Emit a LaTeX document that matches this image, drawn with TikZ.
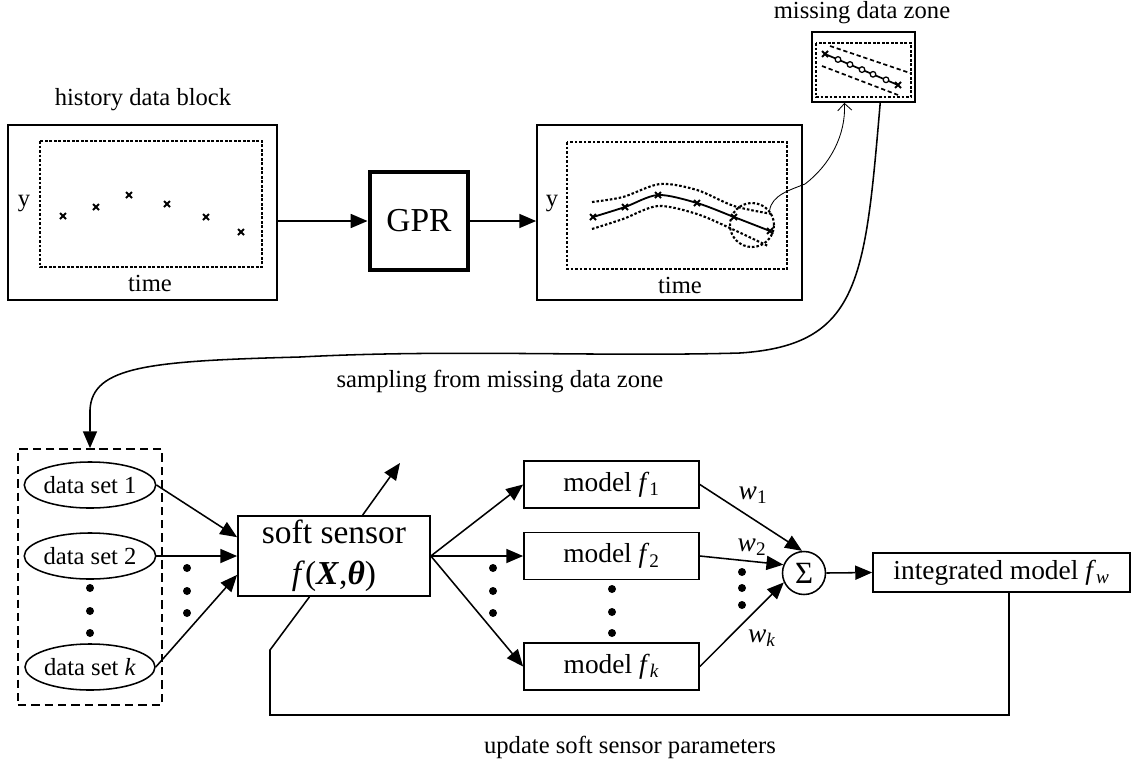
\documentclass[tikz,border=0pt]{standalone}
\usepackage{fontspec}
\setmainfont{Liberation Serif}
\usetikzlibrary{arrows.meta,shapes.geometric}

\begin{document}
\begin{tikzpicture}[x=0.025cm, y=-0.025cm, line width=1.1pt,
  every node/.style={font=\fontsize{17.5}{20}\selectfont},
  box/.style={draw, line width=1.2pt, inner sep=0pt},
  frame/.style={draw, dash pattern=on 1.8pt off 1.4pt, line width=1.5pt},
  dset/.style={draw, ellipse, line width=1.1pt, minimum width=3.15cm, minimum height=1.15cm, inner sep=0pt},
  mdl/.style={box, minimum width=4.375cm, minimum height=1.175cm, font=\fontsize{19.5}{22}\selectfont},
  wlbl/.style={font=\fontsize{19.5}{22}\selectfont},
  arr/.style={-{Triangle[length=12pt,width=10pt]}},
  xm/.style={line width=1.3pt}]
\useasboundingbox (0,0) rectangle (1132,765);

% history data
\node (histlbl) at (143,100) {history data block};
\node[box, minimum width=6.725cm, minimum height=4.375cm] (hist) at (142.5,212.5) {};
\draw[frame] (40,141) rectangle (262,267);
\node (histy) at (24,204) {y};
\node (histt) at (150,283) {time};
\foreach \x/\y in {63/216,96/207,129/195,167/204,206/217,241/232}
  \draw[xm] (\x,\y) +(-3,-3) -- +(3,3) +(-3,3) -- +(3,-3);

\node[draw, line width=3.5pt, minimum width=2.45cm, minimum height=2.45cm, font=\fontsize{23.8}{28}\selectfont] (gpr) at (419,221) {GPR};

% regression result
\node[box, minimum width=6.625cm, minimum height=4.375cm] (gpro) at (669.5,212.5) {};
\draw[frame] (567,142) rectangle (787,269);
\node (gproy) at (552,203) {y};
\node (gprot) at (680,285) {time};
\draw[line width=1.3pt] plot[smooth] coordinates {(593,217) (625,207) (658,195) (697,203) (734,217) (770,231)};
\draw[frame] plot[smooth] coordinates {(592,202) (623,197) (660,184) (697,190) (734,206) (772,214)};
\draw[frame] plot[smooth] coordinates {(592,229) (623,219) (658,206) (697,214) (732,229) (768,246)};
\foreach \x/\y in {593/217,625/207,658/195,697/203,734/217,770/231}
  \draw[xm] (\x,\y) +(-3,-3) -- +(3,3) +(-3,3) -- +(3,-3);
\node[circle, frame, minimum size=1.1cm, inner sep=0pt] (zoomc) at (752,225) {};

% missing data zone
\node (zonelbl) at (862,13) {missing data zone};
\node[box, minimum width=2.575cm, minimum height=1.75cm] (zone) at (863.5,67) {};
\draw[frame] (816,43) rectangle (911,97);
\draw[dash pattern=on 3pt off 2pt, line width=1.2pt] (830,46) -- (910,73);
\draw[dash pattern=on 3pt off 2pt, line width=1.2pt] (822,66) -- (898,95);
\draw[line width=1.2pt] (825,54) -- (898,85);
\foreach \x/\y in {838/59.5,850/64.5,862/69.6,873/74.3,886/79.8}
  \filldraw[fill=white, line width=0.9pt] (\x,\y) circle (0.07cm);
\foreach \x/\y in {825/54,898/85}
  \draw[xm] (\x,\y) +(-3,-3) -- +(3,3) +(-3,3) -- +(3,-3);

\draw[line width=0.6pt, -{Straight Barb[length=5pt,width=10pt]}] (zoomc.40) .. controls (772,195) and (790,190) .. (805,184) .. controls (830,165) and (846,135) .. (zone.242);

\draw[arr] (hist.east |- gpr.west) -- (gpr.west);
\draw[arr] (gpr.east) -- (gpr.east -| gpro.west);

% sampling
\node[draw, dash pattern=on 6pt off 3.5pt, line width=1.2pt, minimum width=3.6cm, minimum height=6.4cm] (sets) at (90,577) {};
\draw[arr] (zone.295) .. controls (865,280) and (860,345) .. (740,353) .. controls (600,357) and (450,349) .. (300,357) .. controls (150,361) and (92,366) .. (90,410) -- (sets.north);
\node (samplbl) at (500,381) {sampling from missing data zone};

\node[dset] (ds1) at (90,485) {data set 1};
\node[dset] (ds2) at (90,556) {data set 2};
\node[dset] (dsk) at (90,667) {data set \textit{k}};
\foreach \y in {588,611,633}
  \fill (90,\y) circle (0.1cm);

% soft sensor
\node[box, align=center, minimum width=4.8cm, minimum height=2cm, font=\fontsize{23.8}{29}\selectfont] (soft) at (334,556) {soft sensor\\\textit{f}(\textbf{\textit{X}},\textbf{\textit{θ}})};
\draw[arr] (ds1.east) -- (soft.169);
\draw[arr] (ds2.east) -- (soft.west);
\draw[arr] (dsk.east) -- (soft.191);
\foreach \y in {568,591,613}
  \fill (187,\y) circle (0.1cm);
\coordinate (sout) at (400,463);
\draw[arr] (soft.55) -- (sout);

% sub-models
\node[mdl] (m1) at (611.5,484.5) {model~\textit{f}\textsubscript{1}};
\node[mdl] (m2) at (611.5,556) {model~\textit{f}\textsubscript{2}};
\node[mdl] (mk) at (611.5,666.5) {model~\textit{f}\textsubscript{\textit{k}}};
\draw[arr] (soft.east) -- (m1.west);
\draw[arr] (soft.east) -- (m2.west);
\draw[arr] (soft.east) -- (mk.west);
\foreach \y in {568,591,613}
  \fill (493,\y) circle (0.1cm);
\foreach \y in {589,612,633}
  \fill (612,\y) circle (0.1cm);

% weighting
\node[circle, draw, line width=1.1pt, minimum size=1.075cm, inner sep=0pt, font=\fontsize{22}{24}\selectfont] (sum) at (804,573) {Σ};
\draw[arr] (m1.east) -- (sum.95);
\draw[arr] (m2.east) -- (sum.158);
\draw[arr] (mk.east) -- (sum.205);
\node[wlbl] (w1) at (753,495) {\textit{w}\textsubscript{1}};
\node[wlbl] (w2) at (752,547) {\textit{w}\textsubscript{2}};
\node[wlbl] (wk) at (762,638) {\textit{w}\textsubscript{\textit{k}}};
\foreach \y in {572,588,605}
  \fill (742,\y) circle (0.1cm);

\node[box, minimum width=6.425cm, minimum height=0.975cm, font=\fontsize{19.5}{22}\selectfont] (integ) at (1001.5,572.5) {integrated model~\textit{f}\textsubscript{\textit{w}}};
\draw[arr] (sum.east) -- (integ.west);

% feedback
\coordinate (fbr) at (1009,715);
\draw (integ.south -| fbr) -- (fbr) -- (270,715) -- (270,650) -- (soft.239);
\node (updlbl) at (630,747) {update soft sensor parameters};
\end{tikzpicture}
\end{document}
